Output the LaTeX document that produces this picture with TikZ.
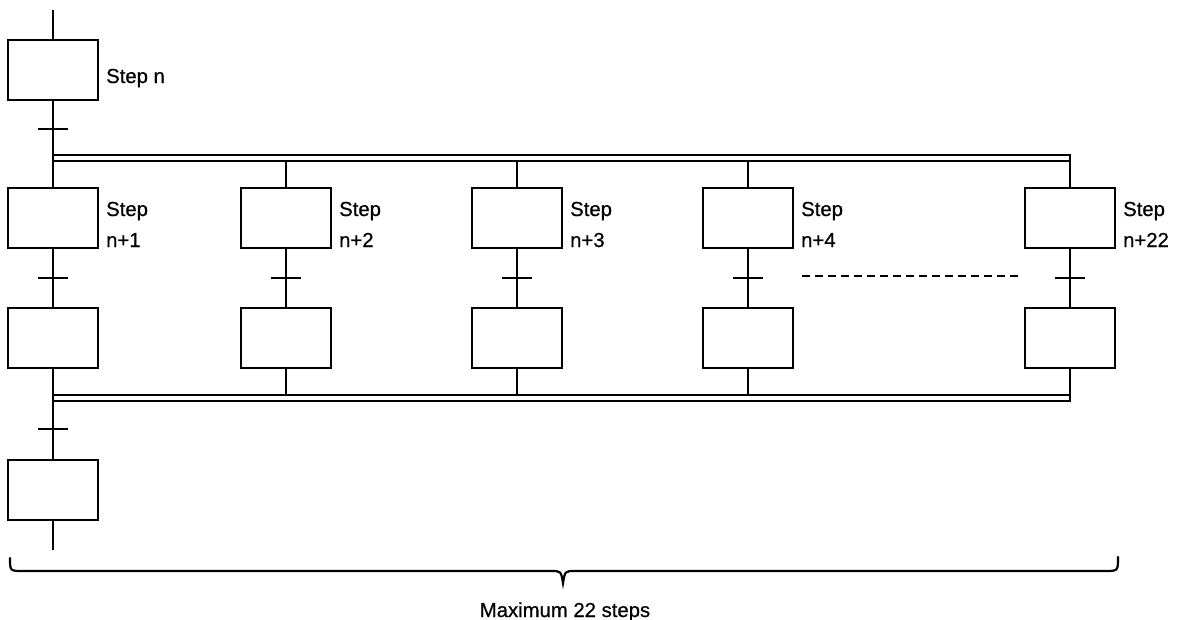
\documentclass[tikz,border=0pt]{standalone}
\usepackage{fontspec}
\setmainfont{Liberation Sans}
\newfontfamily\heavyfont{Liberation Sans}[FakeBold=0.6]
\begin{document}
\begin{tikzpicture}[x=1pt,y=-1pt,
  stepbox/.style={draw,line width=2.2pt,minimum width=90pt,minimum height=60pt,inner sep=0pt},
  lbl/.style={anchor=base west,inner sep=0pt,font=\heavyfont\fontsize{20.3}{24}\selectfont},
  ln/.style={line width=2.2pt},
  barline/.style={line width=2.2pt},
  dashline/.style={line width=1.4pt,dash pattern=on 8pt off 5pt},
  bracestyle/.style={line width=2.2pt,line cap=round}]
\useasboundingbox (0,0) rectangle (1179,619);

% first step
\coordinate (top) at (53,10);
\node[stepbox] (s0) at (53,70) {};
\node[lbl] (l0) at (106,83) {Step n};
\coordinate (t0) at (53,129);

% parallel branch lines
\coordinate (tl1) at (53,155);
\coordinate (tr1) at (1070,155);
\coordinate (tr2) at (1070,161);
\coordinate (tl2) at (53,161);
\coordinate (bl1) at (53,395);
\coordinate (br1) at (1070,395);
\coordinate (br2) at (1070,401);
\coordinate (bl2) at (53,401);

% branches
\foreach \k/\x/\n in {1/53/n+1,2/286/n+2,3/517/n+3,4/748/n+4,5/1070/n+22}{
  \node[stepbox] (a\k) at (\x,218) {};
  \node[stepbox] (b\k) at (\x,338) {};
  \coordinate (t\k) at (\x,278);
  \node[lbl] (ls\k) at (\x+53,216) {Step};
  \node[lbl] (ln\k) at (\x+53,247) {\n};
}

% last step
\coordinate (t9) at (53,429);
\node[stepbox] (s9) at (53,490) {};
\coordinate (bot) at (53,550);

% connectors
\draw[ln] (top) -- (s0.north);
\draw[ln] (s0.south) -- (a1.north);
\draw[barline] ([xshift=-15pt]t0) -- ([xshift=15pt]t0);
\draw[ln,line join=miter] (tl1) -- (tr1) -- (tr2) -- (tl2);
\draw[ln,line join=miter] (bl1) -- (br1) -- (br2) -- (bl2);
\foreach \k in {2,3,4,5}{
  \draw[ln] (a\k.north) -- (a\k.north |- tl2);
  \draw[ln] (b\k.south) -- (b\k.south |- bl1);
}
\foreach \k in {1,2,3,4,5}{
  \draw[ln] (a\k.south) -- (b\k.north);
  \draw[barline] ([xshift=-15pt]t\k) -- ([xshift=15pt]t\k);
}
\draw[ln] (b1.south) -- (s9.north);
\draw[barline] ([xshift=-15pt]t9) -- ([xshift=15pt]t9);
\draw[ln] (s9.south) -- (bot);

% dashed continuation
\coordinate (d1) at (802,276);
\coordinate (d2) at (1022,276);
\draw[dashline] (d1) -- (d2);

% brace
\coordinate (brl) at (10,558);
\coordinate (brm) at (563,583);
\coordinate (brr) at (1118,557);
\draw[bracestyle] (brl) .. controls (10,571) .. (23,571) -- (551,571)
  .. controls (561,571) .. (brm) .. controls (565,571) .. (575,571)
  -- (1105,571) .. controls (1118,571) .. (brr);
\node[anchor=base,inner sep=0pt,font=\heavyfont\fontsize{20.3}{24}\selectfont] (maxlbl) at (565,617) {Maximum 22 steps};
\end{tikzpicture}
\end{document}
